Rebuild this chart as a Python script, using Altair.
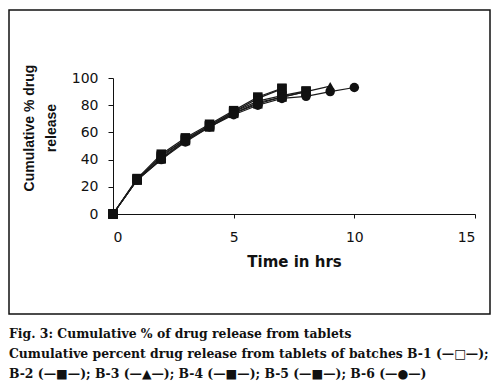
import altair as alt
import pandas as pd

# ---- data ----
series_names = ["B-1", "B-2", "B-3", "B-4", "B-5", "B-6"]
time_hrs = [0, 1, 2, 3, 4, 5, 6, 7, 8, 9, 10]
b1 = [0, 26, 44, 56, 66, 76, 86, 92.5]
b2 = [0, 25, 43, 55, 65, 75, 85, 92]
b3 = [0, 25, 40, 54, 64, 74, 82, 86, 90, 94]
b4 = [0, 26, 42, 55, 65, 75, 83, 87, 90.5]
b5 = [0, 25, 41, 54, 64, 74, 81, 86, 90]
b6 = [0, 25, 40, 53, 64, 73, 80, 85, 86.5, 90, 93]
series_values = [b1, b2, b3, b4, b5, b6]

x_ticks = [0, 5, 10, 15]
y_ticks = [0, 20, 40, 60, 80, 100]

x_title = "Time in hrs"
y_title_lines = ["Cumulative % drug", "release"]
caption_lines = [
    "Fig. 3: Cumulative % of drug release from tablets",
    "Cumulative percent drug release from tablets of batches B-1 (\u2014\u25a1\u2014);",
    "B-2 (\u2014\u25a0\u2014); B-3 (\u2014\u25b2\u2014); B-4 (\u2014\u25a0\u2014); B-5 (\u2014\u25a0\u2014); B-6 (\u2014\u25cf\u2014)",
]

# style (not data)
marker_shapes = ["square", "square", "triangle-up", "square", "square", "circle"]
marker_sizes = [90, 90, 80, 90, 90, 55]

rows = []
for name, vals in zip(series_names, series_values):
    for t, v in zip(time_hrs, vals):
        rows.append({"series": name, "time": t, "release": v})
df = pd.DataFrame(rows)

W, H = 362, 136

xenc = alt.X("time:Q", scale=alt.Scale(domain=[0, 15], nice=False),
             axis=alt.Axis(values=x_ticks, title=x_title, grid=False, tickSize=4,
                           labelPadding=12, titlePadding=10,
                           labelFont="DejaVu Sans", labelFontSize=14,
                           titleFont="DejaVu Sans", titleFontSize=15, titleFontWeight="bold",
                           labelColor="#111", titleColor="#111",
                           domainColor="#111", tickColor="#111"))
yenc = alt.Y("release:Q", scale=alt.Scale(domain=[0, 100], nice=False),
             axis=alt.Axis(values=y_ticks, title=None, grid=False, tickSize=5,
                           labelPadding=10, labelFont="DejaVu Sans", labelFontSize=14,
                           labelColor="#111", domainColor="#111", tickColor="#111"))

base = alt.Chart(df)
lines = base.mark_line(color="#1a1a1a", strokeWidth=1.2).encode(
    x=xenc, y=yenc, detail="series:N")
points = base.mark_point(filled=True, color="#111", opacity=1).encode(
    x=xenc, y=yenc,
    shape=alt.Shape("series:N", scale=alt.Scale(domain=series_names, range=marker_shapes), legend=None),
    size=alt.Size("series:N", scale=alt.Scale(domain=series_names, range=marker_sizes), legend=None),
)

one = pd.DataFrame({"k": [0]})
frame = alt.Chart(one).mark_rect(fillOpacity=0, stroke="#111", strokeWidth=1.5, clip=False).encode(
    x=alt.value(-104), x2=alt.value(377), y=alt.value(-68), y2=alt.value(236))

ytitles = [
    alt.Chart(one).mark_text(angle=270, align="center", baseline="middle", font="Liberation Sans",
                             fontSize=14, fontWeight="bold", color="#111").encode(
        x=alt.value(xx), y=alt.value(50), text=alt.value(t))
    for xx, t in zip([-83, -61], y_title_lines)
]

captions = [
    alt.Chart(one).mark_text(align="left", baseline="alphabetic", font="DejaVu Serif",
                             fontSize=12.4, fontWeight="bold", color="#111").encode(
        x=alt.value(-104), y=alt.value(yy), text=alt.value(t))
    for yy, t in zip([260, 280, 300], caption_lines)
]

chart = alt.layer(frame, lines, points, *ytitles, *captions).properties(
    width=W, height=H,
    autosize=alt.AutoSizeParams(type="none"),
    padding={"left": 105, "top": 70, "right": 18, "bottom": 168},
).configure_view(stroke=None)

chart.save("out.html", embed_options={"renderer": "svg", "actions": False})
